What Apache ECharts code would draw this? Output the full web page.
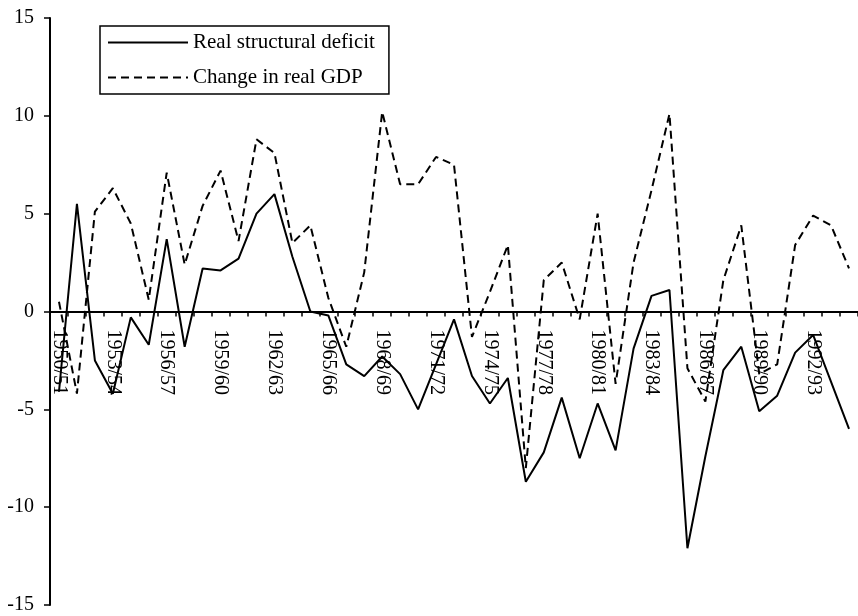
<!DOCTYPE html>
<html>
<head>
<meta charset="utf-8">
<script src="https://cdn.jsdelivr.net/npm/echarts@6/dist/echarts.min.js"></script>
<style>
	html, body { margin: 0; padding: 0; background: #fff; }
	#chart { width: 858px; height: 616px; }
</style>
</head>
<body>
<div id="chart"></div>
<script>
// Data
var years = [
	'1950/51', '1951/52', '1952/53', '1953/54', '1954/55', '1955/56', '1956/57', '1957/58', '1958/59',
	'1959/60', '1960/61', '1961/62', '1962/63', '1963/64', '1964/65', '1965/66', '1966/67', '1967/68',
	'1968/69', '1969/70', '1970/71', '1971/72', '1972/73', '1973/74', '1974/75', '1975/76', '1976/77',
	'1977/78', '1978/79', '1979/80', '1980/81', '1981/82', '1982/83', '1983/84', '1984/85', '1985/86',
	'1986/87', '1987/88', '1988/89', '1989/90', '1990/91', '1991/92', '1992/93', '1993/94', '1994/95'
];
var structuralDeficit = [
	-4.1, 5.5, -2.5, -4.2, -0.3, -1.7, 3.7, -1.8, 2.2, 2.1, 2.7, 5.0, 6.0, 2.8, 0.0,
	-0.2, -2.7, -3.3, -2.3, -3.2, -5.0, -2.7, -0.4, -3.3, -4.7, -3.4, -8.7, -7.2, -4.4, -7.5,
	-4.7, -7.1, -1.9, 0.8, 1.1, -12.1, -7.4, -3.0, -1.8, -5.1, -4.3, -2.1, -1.2, -3.6, -6.0
];
var gdpChange = [
	0.5, -4.2, 5.1, 6.3, 4.5, 0.6, 7.1, 2.4, 5.4, 7.2, 3.6, 8.8, 8.1, 3.5, 4.4,
	0.7, -1.8, 2.0, 10.2, 6.5, 6.5, 7.9, 7.5, -1.3, 1.0, 3.4, -8.0, 1.6, 2.5, -0.4,
	5.0, -3.7, 2.5, 6.2, 10.1, -2.9, -4.6, 1.6, 4.4, -3.2, -2.7, 3.4, 4.9, 4.4, 2.2
];
var seriesNames = ['Real structural deficit', 'Change in real GDP'];

var font = "'Liberation Serif', 'Times New Roman', serif";

// grid: top 18, height 587 -> zero line sits in the middle
var gridTop = 18, gridHeight = 587;

var chart = echarts.init(document.getElementById('chart'), '', { renderer: 'canvas' });
chart.setOption({
	animation: false,
	textStyle: { fontFamily: font, color: '#000' },
	grid: { left: 50, top: gridTop, width: 810, height: gridHeight, containLabel: false },
	legend: {
		orient: 'vertical',
		left: 100,
		top: 26,
		padding: [6, 14, 6, 7],
		itemWidth: 80,
		itemHeight: 14,
		itemGap: 14,
		borderColor: '#000',
		borderWidth: 1.5,
		borderRadius: 0,
		itemStyle: { opacity: 0 },	// hide the circle drawn on line icons
		textStyle: { fontFamily: font, fontSize: 21, color: '#000', lineHeight: 21 },
		data: seriesNames
	},
	xAxis: {
		type: 'category',
		data: years,
		boundaryGap: true,
		position: 'bottom',
		offset: -gridHeight / 2,	// axis and labels on the zero line
		axisLine: { onZero: false, lineStyle: { color: '#000', width: 2 } },
		axisTick: { show: true, length: 5, interval: 0, lineStyle: { color: '#000', width: 1.5 } },
		axisLabel: {
			interval: 2,
			rotate: -90,
			margin: 18,
			fontFamily: font,
			fontSize: 20,
			color: '#000'
		},
		splitLine: { show: false }
	},
	yAxis: {
		type: 'value',
		min: -15,
		max: 15,
		interval: 5,
		axisLine: { show: true, lineStyle: { color: '#000', width: 2 } },
		axisTick: { show: true, length: 6, lineStyle: { color: '#000', width: 1.5 } },
		axisLabel: { margin: 16, fontFamily: font, fontSize: 20, color: '#000' },
		splitLine: { show: false }
	},
	series: [
		{
			name: seriesNames[0],
			type: 'line',
			data: structuralDeficit,
			symbol: 'none',
			z: 3,
			lineStyle: { color: '#000', width: 2, type: 'solid' },
			itemStyle: { color: '#000' }
		},
		{
			name: seriesNames[1],
			type: 'line',
			data: gdpChange,
			symbol: 'none',
			z: 2,
			lineStyle: { color: '#000', width: 2, type: [8, 5] },
			itemStyle: { color: '#000' }
		}
	]
});
</script>
</body>
</html>
